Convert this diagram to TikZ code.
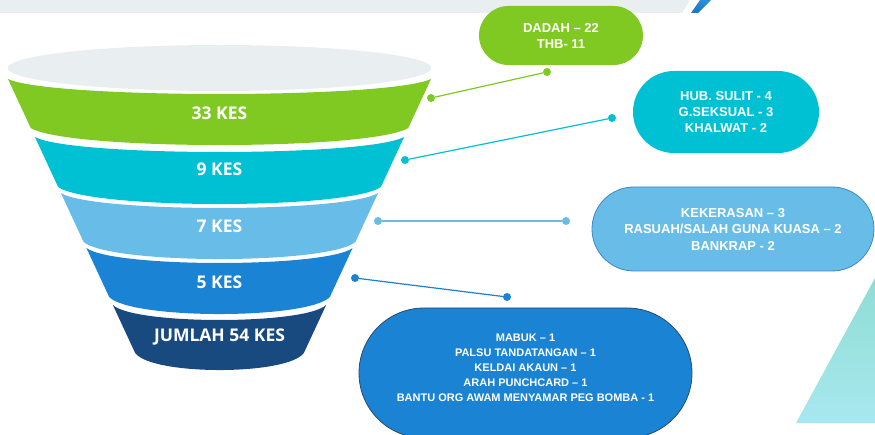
\documentclass[tikz,border=0pt]{standalone}
\usepackage{fontspec}
\setmainfont{Liberation Sans}
\newfontfamily\funnelfont{Open Sans}
\usetikzlibrary{positioning}
\definecolor{kgreen}{HTML}{80C923}
\definecolor{kcyan}{HTML}{00C1D4}
\definecolor{klight}{HTML}{67BDE8}
\definecolor{kblue}{HTML}{1A83D3}
\definecolor{knavy}{HTML}{194A7F}
\definecolor{kgray}{HTML}{E9EEF1}
\definecolor{kstripe}{HTML}{2E8FD8}
\definecolor{klightedge}{HTML}{3C88C4}
\definecolor{kblueedge}{HTML}{2A4A6A}
\definecolor{tritop}{HTML}{8FDDD4}
\definecolor{tribot}{HTML}{A8E8EF}
\tikzset{band label/.style={text=white,font=\funnelfont\bfseries\fontsize{17.5}{20}\selectfont}}
\tikzset{case box/.style={text=white,align=center,inner sep=0pt,font=\bfseries\fontsize{13}{16}\selectfont}}
\tikzset{dot/.style={circle,fill=#1,minimum size=8pt,inner sep=0pt}}

\begin{document}
\begin{tikzpicture}[x=1pt,y=-1pt]
    \clip (0,0) rectangle (875,435);
    \useasboundingbox (0,0) rectangle (875,435);

    % background pieces
    \fill[kgray] (0,0) -- (690,0) -- (682,13) -- (0,13) -- cycle;
    \shade[top color=kstripe, bottom color=kblue!90!black] (700,0) -- (711,0) -- (698,13) -- (691,13) -- cycle;
    \shade[top color=tritop, bottom color=tribot] (875,278) -- (875,423) -- (796,423) -- cycle;

    % funnel
    \fill[kgray] (219.5,68) ellipse [x radius=212pt, y radius=23pt];
    \foreach \yt/\yb/\ly/\col/\txt [count=\i] in
        {79/128/113/kgreen/33 KES, 137/187/169/kcyan/9 KES, 193/242/226/klight/7 KES,
         248/297/282/kblue/5 KES, 305/353/337/knavy/JUMLAH 54 KES}
    {
        \pgfmathsetmacro\wt{211.5-0.464*(\yt-79)}
        \pgfmathsetmacro\wb{211.5-0.464*(\yb-79)}
        \fill[\col] (219.5-\wt,\yt) .. controls +(0.2*\wt,20) and +(-0.2*\wt,20) .. (219.5+\wt,\yt)
            -- (219.5+\wb,\yb) .. controls +(-0.2*\wb,22.7) and +(0.2*\wb,22.7) .. (219.5-\wb,\yb) -- cycle;
        \node[band label] (k_{\i}) at (219.5,\ly) {\txt};
    }

    % case boxes
    \node[case box,fill=kgreen,minimum width=164pt,minimum height=59pt,rounded corners=29.5pt] (box_{1}) at (561,35.5) {DADAH -- 22\\THB- 11};
    \node[case box,fill=kcyan,minimum width=186pt,minimum height=82pt,rounded corners=41pt] (box_{2}) at (726,112) {HUB. SULIT - 4\\G.SEKSUAL - 3\\KHALWAT - 2};
    \node[case box,fill=klight,draw=klightedge,line width=0.8pt,minimum width=282pt,minimum height=84pt,rounded corners=42pt,font=\bfseries\fontsize{13}{16.5}\selectfont] (box_{3}) at (733,229) {KEKERASAN -- 3\\RASUAH/SALAH GUNA KUASA -- 2\\BANKRAP - 2};
    \node[case box,fill=kblue,draw=kblueedge,line width=0.8pt,minimum width=333pt,minimum height=130pt,rounded corners=65pt,text depth=11pt,font=\bfseries\fontsize{11}{15}\selectfont] (box_{4}) at (525.5,373) {MABUK -- 1\\PALSU TANDATANGAN -- 1\\KELDAI AKAUN -- 1\\ARAH PUNCHCARD -- 1\\BANTU ORG AWAM MENYAMAR PEG BOMBA - 1};

    % connectors
    \node[dot=kgreen] (p_{1}) at (431,98) {};
    \node[dot=kgreen] (q_{1}) at (547,72) {};
    \node[dot=kcyan] (p_{2}) at (405,160) {};
    \node[dot=kcyan] (q_{2}) at (612,118) {};
    \node[dot=klight] (p_{3}) at (378,221) {};
    \node[dot=klight] (q_{3}) at (566,221) {};
    \node[dot=kblue] (p_{4}) at (355,278) {};
    \node[dot=kblue] (q_{4}) at (507,297) {};
    \draw[kgreen,line width=1.2pt] (p_{1}) -- (q_{1});
    \draw[kcyan,line width=1.2pt] (p_{2}) -- (q_{2});
    \draw[klight,line width=1.2pt] (p_{3}) -- (q_{3});
    \draw[kblue,line width=1.2pt] (p_{4}) -- (q_{4});
\end{tikzpicture}
\end{document}
